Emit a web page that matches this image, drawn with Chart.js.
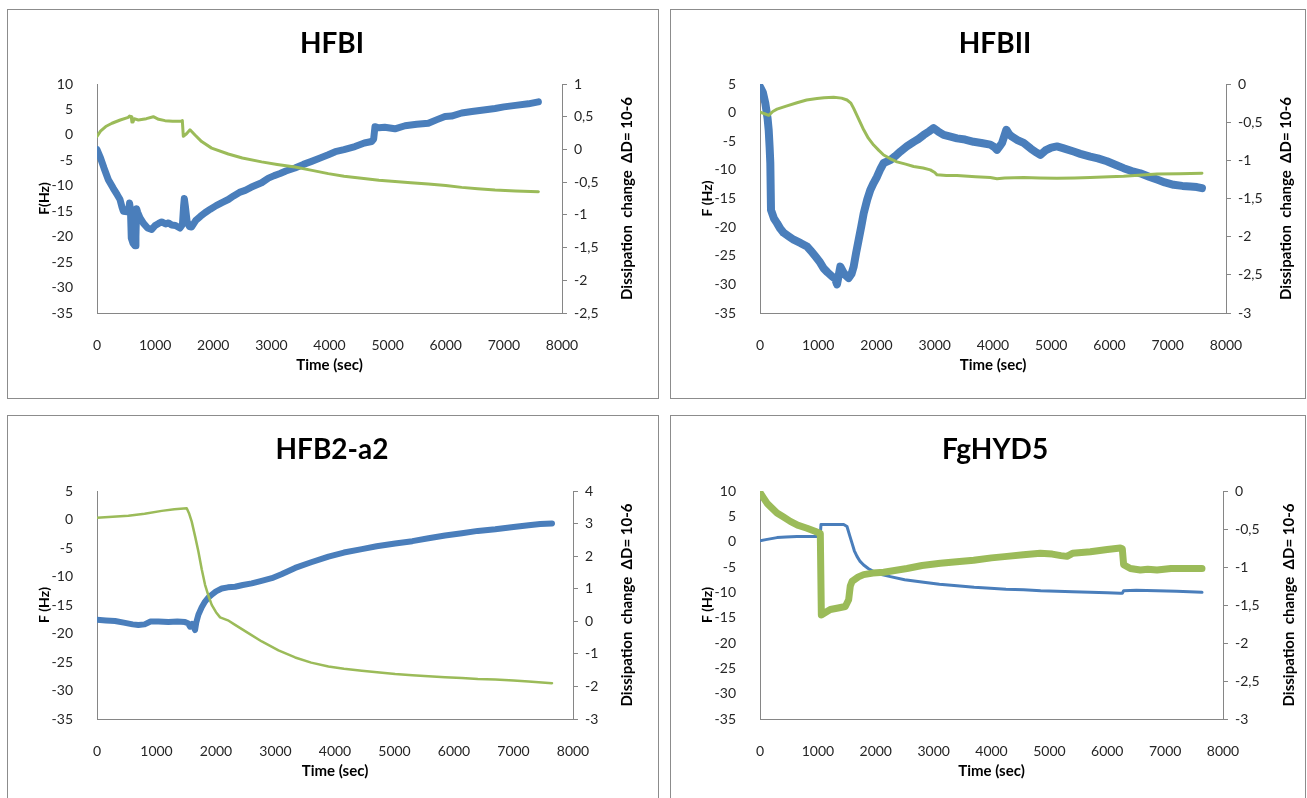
<!DOCTYPE html>
<html>
<head>
<meta charset="utf-8">
<title>QCM-D: frequency and dissipation of hydrophobins</title>
<script src="https://cdn.jsdelivr.net/npm/chart.js@4.4.1/dist/chart.umd.min.js"></script>
<style>
  html, body { margin: 0; padding: 0; background: #fff; width: 1307px; height: 798px; overflow: hidden; }
  .panel { position: absolute; border: 1px solid #8c8c8c; background: #fff; }
  .panel canvas { display: block; }
</style>
</head>
<body>
<div class="panel" style="left:7px;top:9px;width:650px;height:388px"><canvas id="hfbi" width="650" height="388"></canvas></div>
<div class="panel" style="left:670px;top:9px;width:634px;height:388px"><canvas id="hfbii" width="634" height="388"></canvas></div>
<div class="panel" style="left:7px;top:415px;width:650px;height:388px"><canvas id="hfb2a2" width="650" height="388"></canvas></div>
<div class="panel" style="left:670px;top:415px;width:634px;height:388px"><canvas id="fghyd5" width="634" height="388"></canvas></div>
<script>
// ---- Time axis (sec) ----
const timeRange = [0, 8000, 1000];

// ---- HFBI ----
const hfbiFTime = [0,60,120,195,280,350,396,430,453,520,545,560,575,590,620,654,670,682,700,740,800,870,940,1000,1060,1112,1180,1230,1284,1350,1427,1470,1490,1502,1520,1550,1590,1628,1700,1780,1858,1950,2050,2150,2259,2350,2450,2550,2650,2750,2832,2950,3050,3150,3250,3405,3550,3692,3850,3979,4100,4250,4438,4600,4725,4760,4782,4850,4950,5126,5300,5500,5700,5850,5987,6100,6274,6450,6650,6848,7000,7200,7421,7593];
const hfbiF     = [-2.9,-4.5,-6.5,-8.8,-10.5,-11.8,-12.7,-14.2,-15.0,-15.1,-14.8,-13.4,-14.5,-20.3,-21.3,-21.8,-20.0,-14.5,-15.2,-16.3,-17.4,-18.3,-18.6,-17.8,-17.4,-17.1,-17.5,-17.3,-17.7,-17.8,-18.3,-17.6,-14.0,-12.5,-14.0,-17.0,-18.0,-18.1,-16.8,-16.0,-15.3,-14.6,-13.9,-13.3,-12.7,-12.0,-11.3,-10.9,-10.3,-9.8,-9.4,-8.5,-8.0,-7.6,-7.1,-6.5,-5.8,-5.2,-4.5,-3.9,-3.3,-2.9,-2.3,-1.6,-1.3,-0.8,1.6,1.4,1.5,1.2,1.8,2.1,2.3,3.0,3.6,3.7,4.3,4.6,4.9,5.2,5.5,5.8,6.1,6.5];
const hfbiDTime = [0,60,150,258,400,539,560,590,600,620,640,711,850,969,1060,1170,1300,1440,1468,1485,1540,1600,1686,1800,1972,2259,2500,2832,3100,3405,3700,3979,4250,4552,4850,5126,5400,5700,6000,6274,6550,6848,7200,7593];
const hfbiD     = [0.20,0.28,0.35,0.40,0.45,0.49,0.51,0.50,0.42,0.42,0.47,0.45,0.47,0.50,0.46,0.44,0.43,0.43,0.44,0.20,0.24,0.30,0.22,0.12,0.02,-0.07,-0.13,-0.19,-0.23,-0.27,-0.32,-0.37,-0.41,-0.44,-0.47,-0.49,-0.51,-0.53,-0.55,-0.58,-0.60,-0.62,-0.635,-0.645];

// ---- HFBII ----
const hfbiiFTime = [0,50,92,130,149,165,177,189,240,292,350,406,490,578,700,807,880,950,1020,1093,1160,1236,1290,1322,1350,1379,1436,1480,1522,1570,1608,1650,1694,1740,1780,1840,1894,1950,2009,2070,2123,2237,2320,2409,2520,2638,2720,2810,2900,2981,3060,3153,3270,3382,3520,3668,3800,3954,4020,4069,4120,4155,4229,4280,4326,4420,4526,4650,4750,4812,4900,5000,5098,5200,5384,5500,5670,5800,5956,6100,6242,6380,6528,6680,6815,6950,7101,7250,7387,7500,7587];
const hfbiiF     = [4.5,3.5,1.6,-1.0,-3.0,-6.0,-8.8,-17.0,-18.5,-19.3,-20.3,-21.0,-21.6,-22.2,-22.8,-23.4,-24.2,-25.1,-26.0,-27.2,-27.9,-28.6,-29.0,-30.0,-28.5,-26.9,-28.0,-28.5,-28.9,-28.2,-26.9,-24.5,-22.2,-19.8,-17.6,-15.2,-13.5,-12.3,-11.2,-9.8,-8.8,-8.3,-7.6,-6.8,-5.9,-5.1,-4.6,-3.9,-3.3,-2.7,-3.3,-3.9,-4.2,-4.5,-4.7,-5.1,-5.3,-5.6,-6.0,-6.5,-5.8,-5.3,-3.0,-3.8,-4.2,-4.8,-5.3,-6.3,-7.0,-7.4,-6.6,-6.1,-5.9,-6.2,-6.8,-7.2,-7.7,-8.0,-8.5,-9.1,-9.7,-10.2,-10.6,-11.2,-11.7,-12.2,-12.6,-12.8,-12.9,-13.0,-13.2];
const hfbiiDTime = [0,80,149,220,292,450,635,800,979,1100,1265,1400,1494,1560,1608,1700,1780,1860,1951,2040,2123,2240,2352,2500,2638,2800,2924,3000,3039,3200,3382,3700,3954,4069,4200,4526,4800,5098,5400,5670,6000,6242,6500,6815,7200,7587];
const hfbiiD     = [-0.37,-0.39,-0.41,-0.36,-0.33,-0.29,-0.245,-0.21,-0.19,-0.18,-0.175,-0.185,-0.21,-0.25,-0.32,-0.47,-0.60,-0.71,-0.80,-0.87,-0.93,-0.98,-1.02,-1.05,-1.08,-1.10,-1.125,-1.16,-1.19,-1.20,-1.20,-1.215,-1.225,-1.24,-1.23,-1.225,-1.23,-1.234,-1.23,-1.225,-1.215,-1.21,-1.195,-1.18,-1.175,-1.17];

// ---- HFB2-a2 ----
const hfb2FTime = [0,150,303,450,600,695,800,900,1031,1200,1350,1480,1530,1564,1600,1630,1648,1670,1704,1760,1816,1870,1928,2000,2097,2200,2321,2450,2601,2750,2937,3100,3330,3600,3890,4150,4451,4700,5011,5300,5572,5850,6133,6400,6694,7000,7254,7450,7647];
const hfb2F     = [-17.6,-17.7,-17.8,-18.1,-18.4,-18.5,-18.4,-17.9,-17.9,-18.0,-17.9,-18.0,-18.2,-18.8,-18.3,-19.0,-19.4,-18.0,-16.7,-15.4,-14.4,-13.7,-13.2,-12.6,-12.1,-11.9,-11.8,-11.5,-11.2,-10.8,-10.3,-9.6,-8.5,-7.5,-6.5,-5.8,-5.2,-4.7,-4.2,-3.8,-3.3,-2.8,-2.4,-2.0,-1.7,-1.3,-1.0,-0.8,-0.7];
const hfb2DTime = [0,527,800,1088,1300,1508,1550,1592,1650,1704,1760,1816,1870,1928,2000,2069,2200,2321,2550,2769,3050,3330,3600,3890,4150,4451,4750,5011,5300,5572,5850,6133,6400,6694,7000,7254,7647];
const hfb2D     = [3.18,3.24,3.30,3.39,3.44,3.47,3.30,3.06,2.60,2.14,1.60,1.12,0.80,0.505,0.28,0.12,0.03,-0.11,-0.37,-0.62,-0.89,-1.11,-1.27,-1.39,-1.46,-1.52,-1.57,-1.62,-1.66,-1.69,-1.72,-1.74,-1.77,-1.79,-1.82,-1.85,-1.90];

// ---- FgHYD5 ----
const fghydFTime = [0,100,294,450,639,850,1014,1040,1054,1200,1446,1503,1550,1590,1630,1676,1730,1791,1870,1964,2100,2252,2500,2828,3100,3404,3700,3980,4250,4556,4850,5132,5400,5708,6000,6226,6260,6283,6500,6860,7200,7637];
const fghydF     = [0.15,0.4,0.8,0.9,1.0,1.0,1.0,1.1,3.4,3.4,3.4,3.0,1.2,-0.3,-1.8,-2.9,-3.9,-4.6,-5.3,-5.9,-6.5,-6.9,-7.5,-8.0,-8.4,-8.7,-9.0,-9.2,-9.4,-9.5,-9.7,-9.8,-9.9,-10.0,-10.1,-10.2,-10.2,-9.7,-9.6,-9.7,-9.8,-10.0];
const fghydDTime = [0,60,121,200,294,400,524,650,812,950,1042,1060,1215,1350,1474,1532,1560,1590,1700,1791,1950,2137,2300,2540,2800,3116,3400,3692,4000,4268,4550,4844,5050,5200,5304,5400,5708,6000,6226,6260,6283,6400,6571,6700,6860,7100,7400,7637];
const fghydD     = [-0.02,-0.09,-0.16,-0.22,-0.29,-0.34,-0.40,-0.45,-0.49,-0.53,-0.56,-1.63,-1.56,-1.54,-1.52,-1.43,-1.25,-1.19,-1.13,-1.10,-1.08,-1.07,-1.05,-1.02,-0.98,-0.95,-0.93,-0.91,-0.88,-0.86,-0.84,-0.82,-0.83,-0.85,-0.86,-0.82,-0.80,-0.77,-0.75,-0.76,-0.97,-1.02,-1.04,-1.03,-1.04,-1.02,-1.02,-1.02];

// ---- Axis ranges: [min, max, step] ----
const freqRange40 = [-35, 5, 5];
const freqRange45 = [-35, 10, 5];
const hfbiDissRange = [-2.5, 1, 0.5];
const negDissRange = [-3, 0, 0.5];
const hfb2DissRange = [-3, 4, 1];

const BLUE = '#4a7ebb';
const GREEN = '#9bbb59';
const AXIS = '#868686';
const TICK_TEXT = '#262626';
const FONT = 'Lato';
const RIGHT_TITLE = 'Dissipation  change  \u0394D= 10-6';

function pairs(t, v) { return t.map((x, i) => ({ x: x, y: v[i] })); }
function commaNum(v) { return String(Math.round(v * 10) / 10).replace('.', ','); }

// Chart heading and the upward-reading right axis title.
const panelText = {
  id: 'panelText',
  afterDraw(chart, args, o) {
    const ctx = chart.ctx, a = chart.chartArea;
    ctx.save();
    ctx.fillStyle = '#000';
    ctx.textAlign = 'center';
    ctx.font = 'bold 28px ' + FONT;
    ctx.textBaseline = 'alphabetic';
    ctx.fillText(o.title, o.titleX, o.titleY);
    ctx.translate(a.right + o.rightOffset, (a.top + a.bottom) / 2);
    ctx.rotate(-Math.PI / 2);
    ctx.font = 'bold 15px ' + FONT;
    ctx.textBaseline = 'middle';
    ctx.fillText(RIGHT_TITLE, 0, 0);
    ctx.restore();
  }
};

function makePanel(id, p) {
  const tickFont = { family: FONT, size: 14 };
  new Chart(document.getElementById(id), {
    type: 'line',
    data: {
      datasets: [
        { label: 'F', data: pairs(p.fT, p.fV), yAxisID: 'y', borderColor: BLUE, borderWidth: p.fW, order: 1 },
        { label: 'D', data: pairs(p.dT, p.dV), yAxisID: 'y1', borderColor: GREEN, borderWidth: p.dW, order: 0 }
      ]
    },
    options: {
      responsive: false,
      animation: false,
      devicePixelRatio: 1,
      elements: {
        point: { radius: 0 },
        line: { tension: 0, borderJoinStyle: 'round', borderCapStyle: 'round', fill: false }
      },
      layout: { padding: { top: p.top, left: 0, right: 0, bottom: 0 } },
      plugins: {
        legend: { display: false },
        tooltip: { enabled: false },
        panelText: { title: p.title, titleX: 324, titleY: 43, rightOffset: p.rightOffset }
      },
      scales: {
        x: {
          type: 'linear',
          min: timeRange[0], max: timeRange[1],
          ticks: { stepSize: timeRange[2], padding: 16, font: tickFont, color: TICK_TEXT, maxRotation: 0, autoSkip: false, callback: v => String(v) },
          grid: { display: false },
          border: { display: true, color: AXIS, width: 1 },
          title: { display: true, text: 'Time (sec)', color: '#000', font: { family: FONT, size: 15, weight: 'bold' }, padding: { top: 0, bottom: 24 } },
          afterFit: s => { s.height = 85; }
        },
        y: {
          type: 'linear', position: 'left',
          min: p.fR[0], max: p.fR[1],
          ticks: { stepSize: p.fR[2], padding: 16, font: tickFont, color: TICK_TEXT, autoSkip: false, callback: v => String(v) },
          grid: { display: false },
          border: { display: true, color: AXIS, width: 1 },
          title: { display: true, text: p.fTitle, color: '#000', font: { family: FONT, size: 14, weight: 'bold' }, padding: { top: 28, bottom: 0 } },
          afterFit: s => { s.width = 89; }
        },
        y1: {
          type: 'linear', position: 'right',
          min: p.dR[0], max: p.dR[1],
          ticks: { stepSize: p.dR[2], padding: 7, font: tickFont, color: TICK_TEXT, autoSkip: false, callback: commaNum },
          grid: { display: true, drawOnChartArea: false, drawTicks: true, tickLength: 5, color: AXIS, lineWidth: 1 },
          border: { display: true, color: AXIS, width: 1 },
          afterFit: s => { s.width = p.rightWidth; }
        }
      }
    },
    plugins: [panelText]
  });
}

makePanel('hfbi', {
  title: 'HFBI', fTitle: 'F(Hz)',
  fT: hfbiFTime, fV: hfbiF, dT: hfbiDTime, dV: hfbiD,
  fR: freqRange45, dR: hfbiDissRange,
  fW: 7, dW: 3, top: 74, rightWidth: 96, rightOffset: 65
});
makePanel('hfbii', {
  title: 'HFBII', fTitle: 'F (Hz)',
  fT: hfbiiFTime, fV: hfbiiF, dT: hfbiiDTime, dV: hfbiiD,
  fR: freqRange40, dR: negDissRange,
  fW: 8, dW: 3, top: 74, rightWidth: 79, rightOffset: 60
});
makePanel('hfb2a2', {
  title: 'HFB2-a2', fTitle: 'F (Hz)',
  fT: hfb2FTime, fV: hfb2F, dT: hfb2DTime, dV: hfb2D,
  fR: freqRange40, dR: hfb2DissRange,
  fW: 6, dW: 2.5, top: 75, rightWidth: 85, rightOffset: 54
});
makePanel('fghyd5', {
  title: 'FgHYD5', fTitle: 'F (Hz)',
  fT: fghydFTime, fV: fghydF, dT: fghydDTime, dV: fghydD,
  fR: freqRange45, dR: negDissRange,
  fW: 3, dW: 7, top: 75, rightWidth: 82, rightOffset: 66
});
</script>
</body>
</html>
